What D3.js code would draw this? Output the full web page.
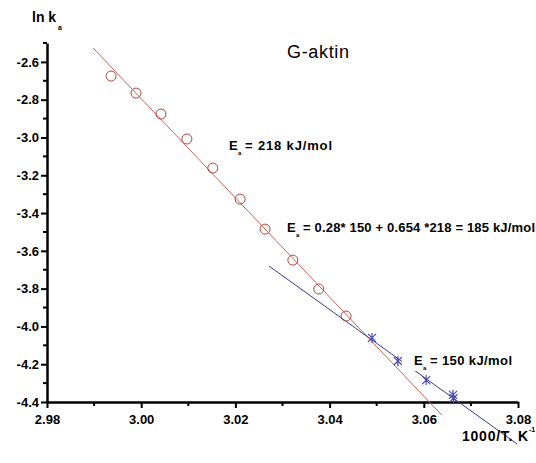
<!DOCTYPE html>
<html>
<head>
<meta charset="utf-8">
<script src="https://cdn.jsdelivr.net/npm/d3@7"></script>
<style>
  body { margin: 0; background: #fff; }
  text { font-family: "Liberation Sans", Arial, sans-serif; }
</style>
</head>
<body>
<div id="chart"></div>
<script>
// data
var redX = [2.9936, 2.9989, 3.0042, 3.0097, 3.0152, 3.0210, 3.0263, 3.0322, 3.0377, 3.0435];
var redY = [-2.675, -2.765, -2.876, -3.008, -3.162, -3.326, -3.485, -3.649, -3.802, -3.945];
var blueX = [3.0490, 3.0545, 3.0605, 3.0662, 3.0663];
var blueY = [-4.061, -4.183, -4.284, -4.362, -4.380];
// fitted lines (end points)
var redLineX = [2.9898, 3.0638];
var redLineY = [-2.527, -4.469];
var blueLineX = [3.0271, 3.0798];
var blueLineY = [-3.680, -4.622];
var xTicks = [2.98, 3.00, 3.02, 3.04, 3.06, 3.08];
var yTicks = [-2.6, -2.8, -3.0, -3.2, -3.4, -3.6, -3.8, -4.0, -4.2, -4.4];

var svgWidth = 536;
var svgHeight = 463;

var svg = d3.select("#chart")
    .append("svg")
    .attr("width", svgWidth)
    .attr("height", svgHeight);

var x = d3.scaleLinear().domain([2.98, 3.08]).range([47, 518]);
var y = d3.scaleLinear().domain([-4.4, -2.5]).range([402, 43]);

// x axis
var xAxis = svg.append("g")
    .attr("transform", "translate(0,402)")
    .call(d3.axisBottom(x).tickValues(xTicks).tickFormat(d3.format(".2f")).tickSize(6).tickSizeOuter(0));
xAxis.select(".domain").attr("stroke-width", 2.5);
xAxis.selectAll(".tick line").attr("stroke-width", 2);
xAxis.selectAll("text").attr("font-size", 13).attr("font-weight", "bold").attr("dy", "1em");
// minor x ticks
svg.append("g").selectAll("line")
    .data(d3.range(2.99, 3.08, 0.02))
    .enter().append("line")
    .attr("x1", d => x(d)).attr("x2", d => x(d))
    .attr("y1", 402).attr("y2", 406)
    .attr("stroke", "#000").attr("stroke-width", 2);

// y axis
var yAxis = svg.append("g")
    .attr("transform", "translate(47,0)")
    .call(d3.axisLeft(y).tickValues(yTicks).tickFormat(d3.format(".1f")).tickSize(6).tickSizeOuter(0));
yAxis.select(".domain").attr("stroke-width", 2.5);
yAxis.selectAll(".tick line").attr("stroke-width", 2);
yAxis.selectAll("text").attr("font-size", 13).attr("font-weight", "bold").attr("x", -8).text(d => d3.format(".1f")(d).replace("−", "-"));
// minor y ticks
svg.append("g").selectAll("line")
    .data(d3.range(-4.3, -2.45, 0.2))
    .enter().append("line")
    .attr("x1", 43).attr("x2", 47)
    .attr("y1", d => y(d)).attr("y2", d => y(d))
    .attr("stroke", "#000").attr("stroke-width", 2);

// fit lines
svg.append("line")
    .attr("x1", x(redLineX[0])).attr("y1", y(redLineY[0]))
    .attr("x2", x(redLineX[1])).attr("y2", y(redLineY[1]))
    .attr("stroke", "#d0605a").attr("stroke-width", 1);
svg.append("line")
    .attr("x1", x(blueLineX[0])).attr("y1", y(blueLineY[0]))
    .attr("x2", x(blueLineX[1])).attr("y2", y(blueLineY[1]))
    .attr("stroke", "#3a3a8c").attr("stroke-width", 1);

// red circles
svg.append("g").selectAll("circle")
    .data(redX)
    .enter().append("circle")
    .attr("cx", d => x(d))
    .attr("cy", (d, i) => y(redY[i]))
    .attr("r", 5)
    .attr("fill", "none")
    .attr("stroke", "#b04840")
    .attr("stroke-width", 1);

// blue stars
var star = svg.append("g").selectAll("g")
    .data(blueX)
    .enter().append("g")
    .attr("transform", (d, i) => `translate(${x(d)},${y(blueY[i])})`);
star.append("path")
    .attr("d", "M-4,-4L4,4M-4,4L4,-4M0,-5L0,5")
    .attr("stroke", "#4a4ab0")
    .attr("stroke-width", 1.2);

// labels
svg.append("text").attr("x", 32).attr("y", 22)
    .attr("font-size", 14).attr("font-weight", "bold").text("ln k");
svg.append("text").attr("x", 58).attr("y", 30)
    .attr("font-size", 7).attr("font-weight", "bold").text("a");

svg.append("text").attr("x", 287).attr("y", 58)
    .attr("font-size", 18).attr("textLength", 62).attr("lengthAdjust", "spacing").text("G-aktin");

function eaLabel(px, py, rest, len, bg) {
    var g = svg.append("g").attr("transform", `translate(${px},${py})`);
    if (bg) g.append("rect").attr("x", -12).attr("y", -10).attr("width", 18).attr("height", 16).attr("fill", "#fff");
    g.append("text").attr("font-size", 13).attr("font-weight", "bold").text("E");
    g.append("text").attr("x", 9).attr("y", 5).attr("font-size", 6).attr("font-weight", "bold").text("a");
    g.append("text").attr("x", 16).attr("font-size", 13).attr("font-weight", "bold")
        .attr("textLength", len).attr("lengthAdjust", "spacing").text(rest);
}
eaLabel(229, 150, "= 218 kJ/mol", 87, false);
eaLabel(287, 232, "= 0.28* 150 +  0.654 *218 = 185 kJ/mol", 232, false);
eaLabel(414, 365, "= 150 kJ/mol", 82, true);

svg.append("text").attr("x", 462).attr("y", 441)
    .attr("font-size", 14).attr("font-weight", "bold")
    .attr("textLength", 66).attr("lengthAdjust", "spacing").text("1000/T. K");
svg.append("text").attr("x", 529).attr("y", 432)
    .attr("font-size", 7).attr("font-weight", "bold").text("-1");
</script>
</body>
</html>
